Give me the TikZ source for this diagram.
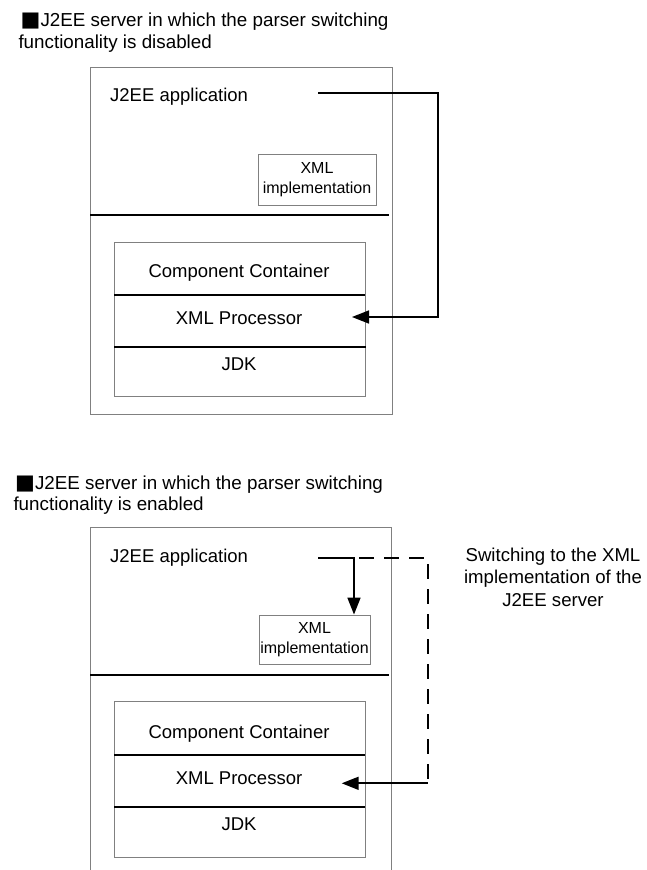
\documentclass[tikz,border=0pt]{standalone}
\usepackage{fontspec}
\setmainfont{Liberation Sans}
\newfontfamily\symfont{DejaVu Sans}
\usetikzlibrary{arrows.meta}
\definecolor{boxgray}{RGB}{128,128,128}
\tikzset{
  framebox/.style={draw=boxgray, line width=0.9pt, inner sep=0pt},
  divline/.style={draw=black, line width=1.7pt},
  conn/.style={draw=black, line width=1.7pt, -{Triangle[length=17pt,width=13pt]}},
  dashconn/.style={draw=black, line width=1.7pt, dash pattern=on 15pt off 10pt, dash phase=20pt},
  lbl/.style={inner sep=0pt, font=\fontsize{18.5}{22}\selectfont},
  titletext/.style={inner sep=0pt, anchor=base west, font=\fontsize{18.8}{22}\selectfont},
  impltext/.style={framebox, align=center, font=\fontsize{16}{20}\selectfont},
}
\begin{document}
\begin{tikzpicture}[x=1pt,y=-1pt]
\useasboundingbox (0,0) rectangle (646,870);

% ---------- top section ----------
\node[titletext] (title1a) at (20.5,26.7) {{\symfont\fontsize{21}{22}\selectfont ■}J2EE server in which the parser switching};
\node[titletext] (title1b) at (18.3,48.3) {functionality is disabled};

\node[framebox, minimum width=302pt, minimum height=347pt] (srv1) at (241,240.5) {};
\draw[divline] (90,215) -- (389,215);
\node[lbl, anchor=west] (app1) at (110,97) {J2EE application};
\node[impltext, minimum width=118pt, minimum height=51pt] (impl1) at (317,179.5) {XML\\implementation};

\node[framebox, minimum width=251pt, minimum height=154pt] (inner1) at (239.5,319) {};
\draw[divline] (114,295) -- (365,295);
\draw[divline] (114,347) -- (366,347);
\node[lbl] (cc1) at (239,273) {Component Container};
\node[lbl] (xp1) at (239,318) {XML Processor};
\node[lbl] (jdk1) at (239,364) {JDK};

\coordinate (s1) at (318,93);
\coordinate (c1) at (438,93);
\coordinate (t1) at (352,317);
\draw[conn] (s1) -- (c1) -- (c1 |- t1) -- (t1);

% ---------- bottom section ----------
\node[titletext] (title2a) at (15,489.3) {{\symfont\fontsize{21}{22}\selectfont ■}J2EE server in which the parser switching};
\node[titletext] (title2b) at (13.3,510.5) {functionality is enabled};

\draw[draw=boxgray, line width=0.9pt] (90,870) -- (90,527.5) -- (391,527.5) -- (391,870);
\draw[divline] (90,675) -- (389,675);
\node[lbl, anchor=west] (app2) at (110,557.7) {J2EE application};
\node[impltext, minimum width=111pt, minimum height=49pt] (impl2) at (314.5,639.5) {XML\\implementation};

\node[framebox, minimum width=251pt, minimum height=155.5pt] (inner2) at (239.5,779.5) {};
\draw[divline] (114,755) -- (365,755);
\draw[divline] (114,807.3) -- (365,807.3);
\node[lbl] (cc2) at (239,734) {Component Container};
\node[lbl] (xp2) at (239,778.3) {XML Processor};
\node[lbl] (jdk2) at (239,824.3) {JDK};

\coordinate (s2) at (318.3,557.7);
\coordinate (b2) at (354,557.7);
\coordinate (d2) at (427.7,557.7);
\coordinate (e2) at (427.7,783.3);
\coordinate (t2) at (341.7,783.3);
\draw[conn] (s2) -- (b2) -- (b2 |- impl2.north);
\draw[dashconn] (b2) -- (d2) -- (e2);
\draw[conn] (e2) -- (t2);

\node[inner sep=0pt, align=center, font=\fontsize{18.6}{22.5}\selectfont] (note) at (553,577)
  {Switching to the XML\\implementation of the\\J2EE server};
\end{tikzpicture}
\end{document}
